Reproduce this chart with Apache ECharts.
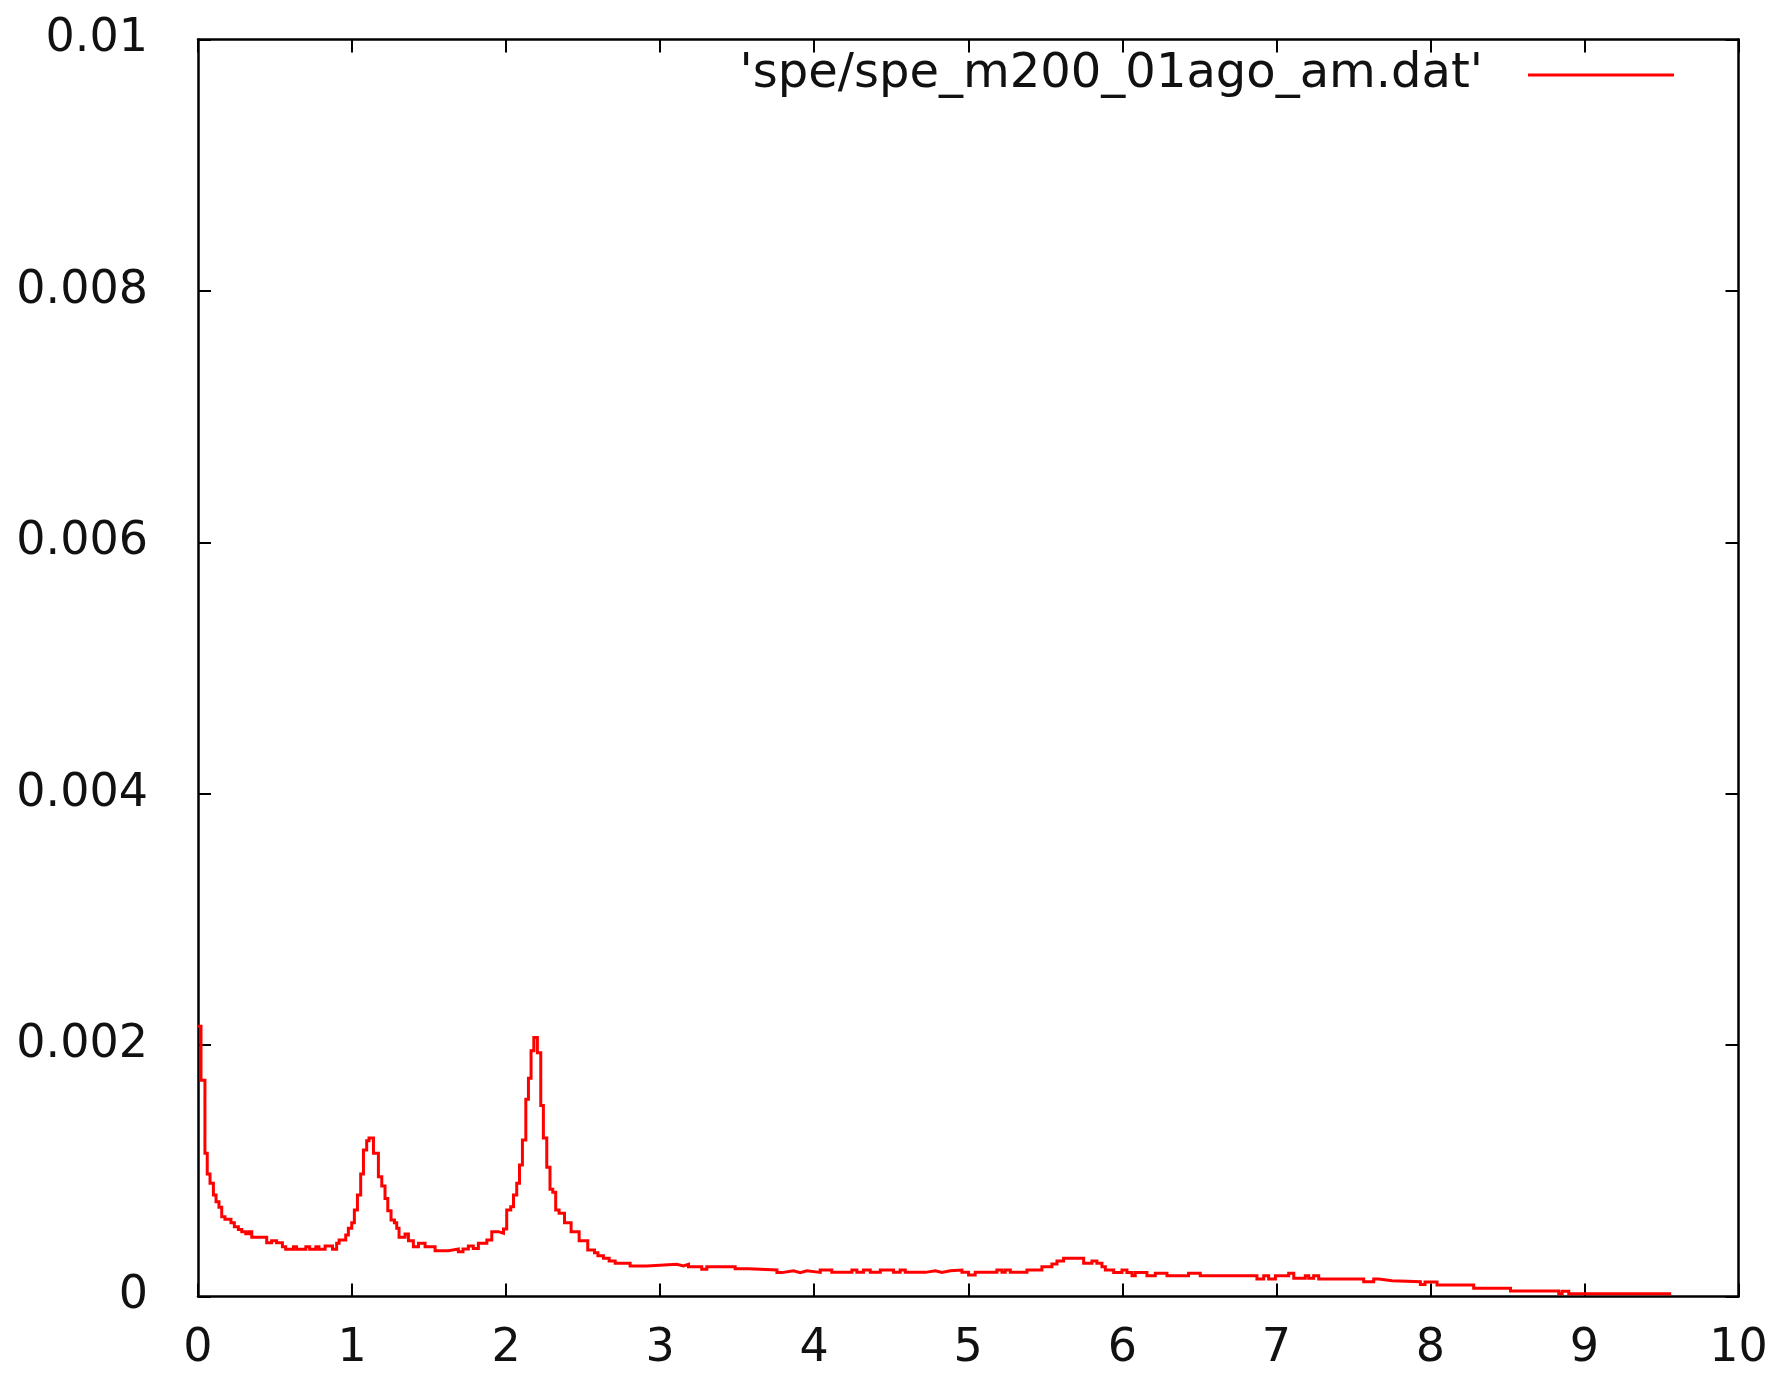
<!DOCTYPE html>
<html>
<head>
<meta charset="utf-8">
<title>spe_m200_01ago_am</title>
<script src="https://cdn.jsdelivr.net/npm/echarts@6/dist/echarts.min.js"></script>
<style>
  html, body { margin: 0; padding: 0; background: #ffffff; }
  #chart { width: 1778px; height: 1373px; }
</style>
</head>
<body>
<div id="chart"></div>
<script>
// Spectrum, histogram steps: each entry starts a constant segment at binStart[i] with value specValue[i]
const seriesName = "'spe/spe_m200_01ago_am.dat'";

const binStart = [
  0.0, 0.0195, 0.045, 0.06, 0.078, 0.1, 0.117, 0.136, 0.154, 0.175,
  0.214, 0.236, 0.262, 0.284, 0.31, 0.33, 0.349, 0.446, 0.478, 0.51,
  0.548, 0.569, 0.62, 0.64, 0.70, 0.725, 0.765, 0.785, 0.825, 0.873,
  0.9, 0.916, 0.959, 0.976, 0.998, 1.015, 1.035, 1.056, 1.074, 1.095,
  1.11, 1.139, 1.171, 1.193, 1.214, 1.232, 1.253, 1.275, 1.29, 1.305,
  1.344, 1.366, 1.398, 1.431, 1.474, 1.539, 1.626, 1.69, 1.72, 1.755,
  1.787, 1.82, 1.875, 1.907, 1.95, 1.983, 2.004, 2.03, 2.048, 2.069,
  2.087, 2.106, 2.128, 2.145, 2.162, 2.18, 2.203, 2.225, 2.242, 2.264,
  2.285, 2.303, 2.322, 2.344, 2.379, 2.422, 2.474, 2.53, 2.574, 2.596,
  2.632, 2.669, 2.708, 2.805, 2.913, 3.108, 3.151, 3.184, 3.27, 3.303,
  3.487, 3.573, 3.758, 3.79, 3.866, 3.909, 3.952, 4.039, 4.114, 4.245,
  4.277, 4.32, 4.364, 4.429, 4.515, 4.558, 4.591, 4.721, 4.786, 4.829,
  4.883, 4.959, 5.002, 5.045, 5.186, 5.219, 5.24, 5.273, 5.381, 5.478,
  5.543, 5.576, 5.619, 5.749, 5.803, 5.835, 5.868, 5.89, 5.944, 5.998,
  6.03, 6.063, 6.084, 6.16, 6.214, 6.29, 6.43, 6.506, 6.874, 6.918,
  6.95, 6.994, 7.08, 7.113, 7.188, 7.21, 7.242, 7.275, 7.567, 7.632,
  7.665, 7.751, 7.935, 7.965, 8.043, 8.281, 8.52, 8.833, 8.855, 8.898,
  9.563
];

const specValue = [
  21.5e-4, 17.2e-4, 11.4e-4, 9.75e-4, 9.0e-4, 8.07e-4, 7.54e-4, 7.1e-4, 6.35e-4, 6.14e-4,
  5.87e-4, 5.55e-4, 5.34e-4, 5.16e-4, 5.0e-4, 5.16e-4, 4.71e-4, 4.28e-4, 4.44e-4, 4.28e-4,
  3.96e-4, 3.75e-4, 3.96e-4, 3.75e-4, 3.96e-4, 3.75e-4, 3.96e-4, 3.75e-4, 4.02e-4, 3.75e-4,
  4.23e-4, 4.5e-4, 4.9e-4, 5.43e-4, 5.87e-4, 6.88e-4, 8.07e-4, 9.75e-4, 11.65e-4, 12.4e-4,
  12.6e-4, 11.4e-4, 9.53e-4, 8.8e-4, 7.8e-4, 6.83e-4, 6.09e-4, 5.87e-4, 5.43e-4, 4.71e-4,
  4.97e-4, 4.44e-4, 3.96e-4, 4.23e-4, 3.96e-4, 3.64e-4, 3.78e-4, 3.56e-4, 3.78e-4, 4.02e-4,
  3.81e-4, 4.23e-4, 4.5e-4, 5.16e-4, 5.03e-4, 5.37e-4, 6.88e-4, 7.14e-4, 8.07e-4, 9.0e-4,
  10.46e-4, 12.45e-4, 15.7e-4, 17.36e-4, 19.55e-4, 20.6e-4, 19.4e-4, 15.2e-4, 12.6e-4, 10.28e-4,
  8.53e-4, 8.29e-4, 6.88e-4, 6.62e-4, 5.87e-4, 5.16e-4, 4.44e-4, 3.7e-4, 3.48e-4, 3.25e-4,
  3.04e-4, 2.82e-4, 2.64e-4, 2.43e-4, 2.56e-4, 2.43e-4, 2.56e-4, 2.37e-4, 2.16e-4, 2.37e-4,
  2.21e-4, 2.11e-4, 1.9e-4, 2.05e-4, 1.9e-4, 2.05e-4, 1.92e-4, 2.11e-4, 1.92e-4, 2.11e-4,
  1.92e-4, 2.11e-4, 1.92e-4, 2.11e-4, 1.92e-4, 2.11e-4, 1.92e-4, 2.05e-4, 1.92e-4, 2.05e-4,
  2.11e-4, 1.92e-4, 1.71e-4, 1.92e-4, 2.11e-4, 1.92e-4, 2.11e-4, 1.92e-4, 2.11e-4, 2.37e-4,
  2.59e-4, 2.82e-4, 3.04e-4, 2.64e-4, 2.82e-4, 2.64e-4, 2.37e-4, 2.11e-4, 1.9e-4, 2.11e-4,
  1.9e-4, 1.66e-4, 1.9e-4, 1.66e-4, 1.85e-4, 1.66e-4, 1.85e-4, 1.66e-4, 1.39e-4, 1.66e-4,
  1.39e-4, 1.66e-4, 1.85e-4, 1.45e-4, 1.66e-4, 1.45e-4, 1.66e-4, 1.39e-4, 1.18e-4, 1.39e-4,
  1.26e-4, 1.18e-4, 0.95e-4, 1.15e-4, 0.91e-4, 0.65e-4, 0.44e-4, 0.22e-4, 0.41e-4, 0.22e-4,
  0.22e-4
];

const xTickLabels = ['0', '1', '2', '3', '4', '5', '6', '7', '8', '9', '10'];
const yTickLabels = ['0', '0.002', '0.004', '0.006', '0.008', '0.01'];

const points = binStart.map((x, i) => [x, specValue[i]]);

const font = 'DejaVu Sans';
const ink = '#000000';

// Each axis gets its own frame edge and inward ticks (gnuplot-style border with mirrored tics)
const frameLine = () => ({ show: true, onZero: false, lineStyle: { color: ink, width: 2.5 } });
const innerTick = () => ({ show: true, inside: true, length: 13, lineStyle: { color: ink, width: 2 } });

const chart = echarts.init(document.getElementById('chart'), null, { renderer: 'canvas' });

chart.setOption({
  animation: false,
  backgroundColor: '#ffffff',
  grid: { left: 198, right: 39.5, top: 39.5, bottom: 76.5, containLabel: false },
  legend: {
    data: [{ name: seriesName, icon: 'rect' }],
    selectedMode: false,
    align: 'right',
    right: 104,
    top: 51,
    padding: 0,
    itemWidth: 146,
    itemHeight: 3,
    textStyle: {
      fontFamily: font,
      fontSize: 48,
      color: '#111111',
      padding: [0, 40, 6, 0]
    }
  },
  xAxis: [
    {
      type: 'value',
      position: 'bottom',
      min: 0, max: 10, interval: 1,
      axisLine: frameLine(),
      axisTick: innerTick(),
      splitLine: { show: false },
      axisLabel: {
        margin: 30,
        fontFamily: font,
        fontSize: 46,
        color: '#111111',
        formatter: (v, i) => xTickLabels[i]
      }
    },
    {
      type: 'value',
      position: 'top',
      min: 0, max: 10, interval: 1,
      axisLine: frameLine(),
      axisTick: innerTick(),
      splitLine: { show: false },
      axisLabel: { show: false }
    }
  ],
  yAxis: [
    {
      type: 'value',
      position: 'left',
      min: 0, max: 0.01, interval: 0.002,
      axisLine: frameLine(),
      axisTick: innerTick(),
      splitLine: { show: false },
      axisLabel: {
        margin: 50,
        fontFamily: font,
        fontSize: 46,
        color: '#111111',
        padding: [0, 0, 14, 0],
        formatter: (v, i) => yTickLabels[i]
      }
    },
    {
      type: 'value',
      position: 'right',
      min: 0, max: 0.01, interval: 0.002,
      axisLine: frameLine(),
      axisTick: innerTick(),
      splitLine: { show: false },
      axisLabel: { show: false }
    }
  ],
  series: [
    {
      name: seriesName,
      type: 'line',
      xAxisIndex: 0,
      yAxisIndex: 0,
      step: 'end',
      data: points,
      symbol: 'none',
      color: '#ff0000',
      lineStyle: { color: '#ff0000', width: 3, join: 'miter', cap: 'butt' },
      silent: true
    }
  ]
});
</script>
</body>
</html>
